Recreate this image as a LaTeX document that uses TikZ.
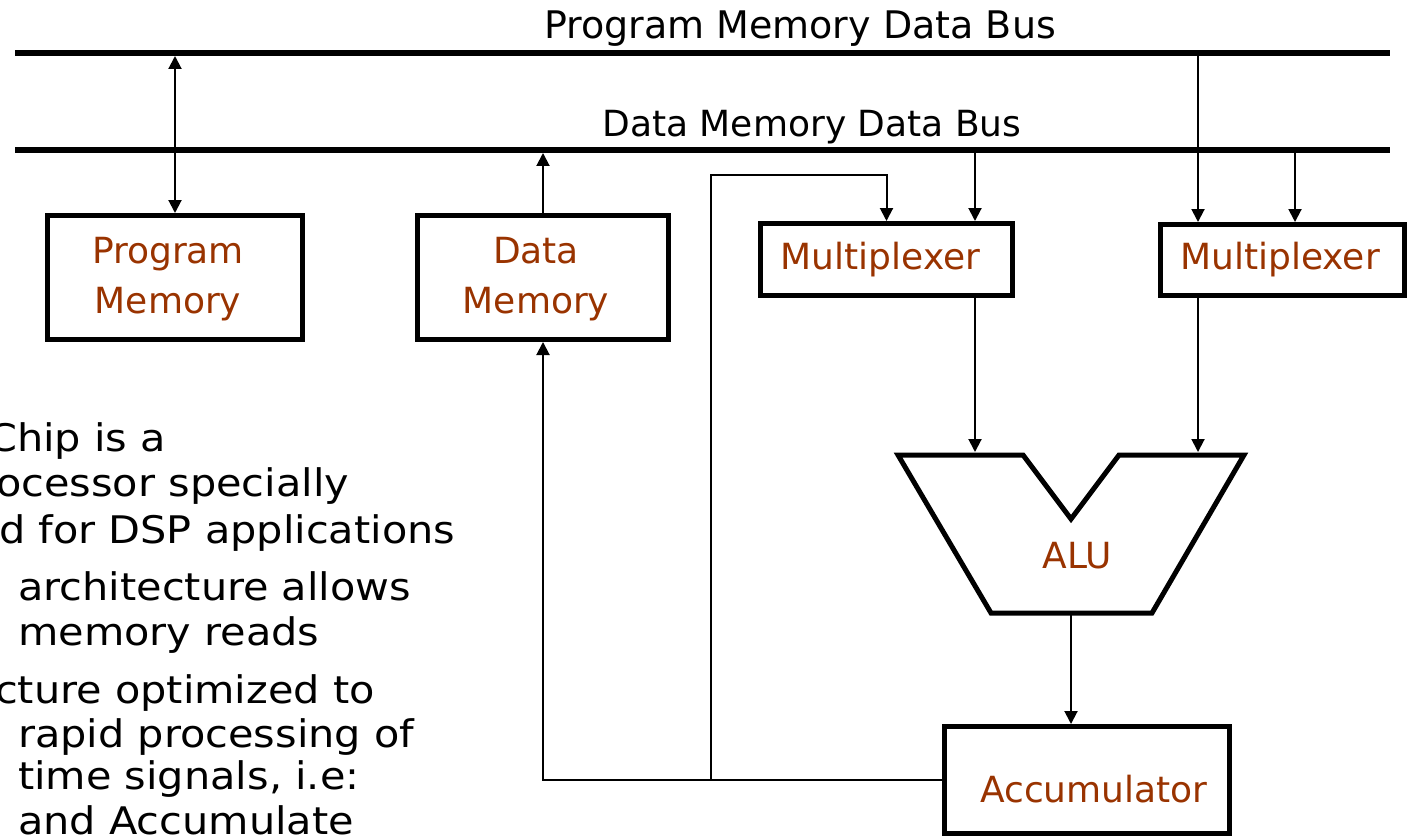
\documentclass[tikz,border=0pt]{standalone}
\usepackage{fontspec}
\setmainfont{DejaVu Sans}
\newfontfamily\bodyfont[FakeStretch=1.09]{DejaVu Sans}
\usetikzlibrary{arrows.meta}
\definecolor{accent}{RGB}{153,51,0}
\begin{document}
\begin{tikzpicture}[x=1pt,y=-1pt,
  font=\fontsize{38}{46}\selectfont,
  bus/.style={line width=6pt},
  arr/.style={line width=2pt,-{Triangle[length=13pt,width=13pt]}},
  darr/.style={line width=2pt,{Triangle[length=13pt,width=13pt]}-{Triangle[length=13pt,width=13pt]}},
  box/.style={draw,line width=5pt,inner sep=0pt},
  boxtext/.style={text=accent,align=center,inner sep=0pt,font=\fontsize{36}{50}\selectfont},
  lbl/.style={anchor=base,inner sep=0pt},
  body/.style={anchor=base west,inner sep=0pt,font=\bodyfont\fontsize{38}{46}\selectfont}]
\useasboundingbox (0,0) rectangle (1407,837);

% buses
\coordinate (pbL) at (15,53); \coordinate (pbR) at (1390,53);
\coordinate (dbL) at (15,150); \coordinate (dbR) at (1390,150);
\draw[bus] (pbL) -- (pbR);
\draw[bus] (dbL) -- (dbR);
\node[lbl] (pblabel) at (800,39) {Program Memory Data Bus};
\node[lbl,font=\fontsize{36}{44}\selectfont] (dblabel) at (812,137) {Data Memory Data Bus};

% boxes
\node[box,minimum width=255pt,minimum height=124pt] (pm) at (175,277.5) {};
\node[boxtext] (pmtext) at ([xshift=-7pt,yshift=-2pt]pm.center) {Program\\Memory};
\node[box,minimum width=251pt,minimum height=124pt] (dm) at (543,277.5) {};
\node[boxtext] (dmtext) at ([xshift=-7pt,yshift=-2pt]dm.center) {Data\\Memory};
\node[box,minimum width=252pt,minimum height=72pt] (mux1) at (886.5,259.5) {};
\node[boxtext] (mux1text) at ([xshift=-6pt]mux1.center) {Multiplexer};
\node[box,minimum width=244pt,minimum height=71pt] (mux2) at (1282,260) {};
\node[boxtext] (mux2text) at ([xshift=-2pt]mux2.center) {Multiplexer};
\node[box,minimum width=285pt,minimum height=107pt] (acc) at (1087,780) {};
\node[boxtext] (acctext) at (1094,789) {Accumulator};

% ALU
\coordinate (aTL) at (898,455); \coordinate (aN1) at (1023,455);
\coordinate (aV) at (1071,519); \coordinate (aN2) at (1119,455);
\coordinate (aTR) at (1244,455); \coordinate (aBR) at (1152,613);
\coordinate (aBL) at (991,613);
\draw[line width=5pt,line join=miter] (aTL) -- (aN1) -- (aV) -- (aN2) -- (aTR) -- (aBR) -- (aBL) -- cycle;
\node[boxtext] (alu) at (1077,556) {ALU};

% bus connections
\coordinate (pbPM) at (175,56);
\draw[darr] (pbPM) -- (pm.north);
\coordinate (dbDM) at (543,153);
\draw[arr] (dm.north) -- (dbDM);
\coordinate (dbM1) at (975,153);
\draw[arr] (dbM1) -- (dbM1 |- mux1.north);
\coordinate (pbM2) at (1198,56);
\draw[arr] (pbM2) -- (pbM2 |- mux2.north);
\coordinate (dbM2) at (1295,153);
\draw[arr] (dbM2) -- (dbM2 |- mux2.north);

% mux to ALU
\coordinate (aluIn1) at (975,452);
\coordinate (aluIn2) at (1198,452);
\draw[arr] (aluIn1 |- mux1.south) -- (aluIn1);
\draw[arr] (aluIn2 |- mux2.south) -- (aluIn2);
\coordinate (aluOut) at (1071,615);
\draw[arr] (aluOut) -- (aluOut |- acc.north);

% feedback
\coordinate (fbL) at (543,780);
\coordinate (fbJ) at (711,780);
\coordinate (fbT) at (711,175);
\draw[arr] (acc.west) -- (fbL) -- (dm.south);
\draw[arr] (fbJ) -- (fbT) -- (fbT -| mux1.north) -- (mux1.north);

% partial bullet text
\node[body] (t1) at (-12,451) {Chip is a};
\node[body] (t2) at (-4,496) {ocessor specially};
\node[body] (t3) at (-1,543) {d for DSP applications};
\node[body] (t4) at (18,600) {architecture allows};
\node[body] (t5) at (18,645) {memory reads};
\node[body] (t6) at (-5,703) {cture optimized to};
\node[body] (t7) at (18,747) {rapid processing of};
\node[body] (t8) at (18,789) {time signals, i.e:};
\node[body] (t9) at (18,834) {and Accumulate};
\end{tikzpicture}
\end{document}
